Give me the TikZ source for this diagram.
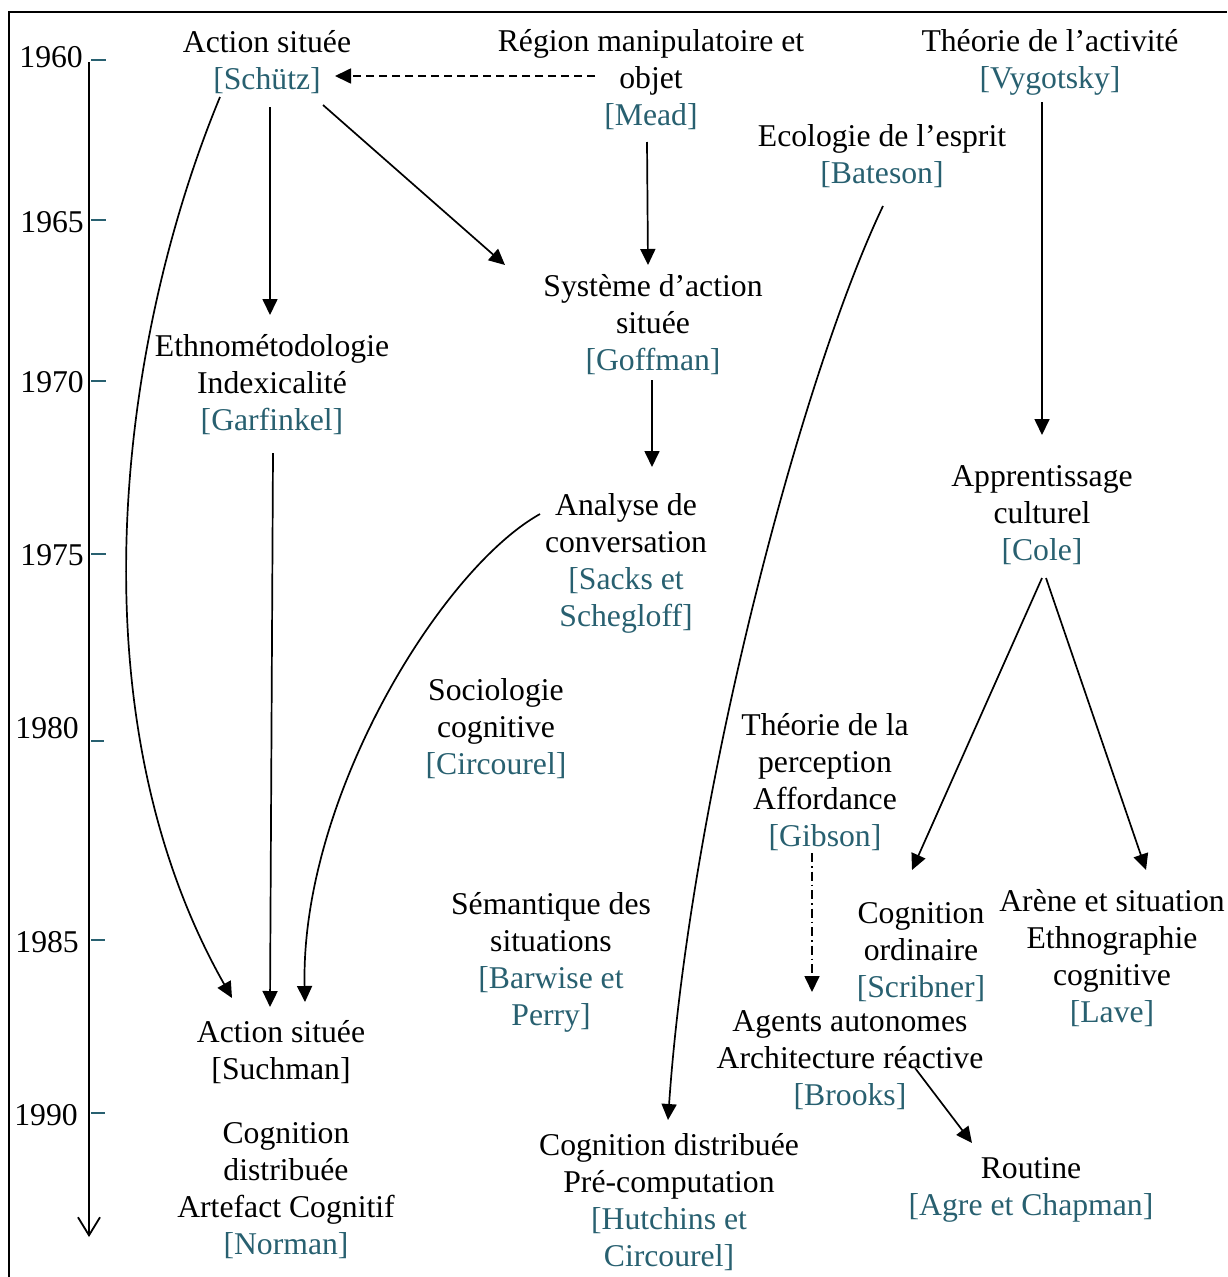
\documentclass[tikz,border=0pt]{standalone}
\usepackage{fontspec}
\setmainfont{Liberation Serif}
\usetikzlibrary{arrows.meta,calc}
\definecolor{nameteal}{RGB}{40,96,112}
\newcommand\nm[1]{\textcolor{nameteal}{#1}}
\begin{document}
\begin{tikzpicture}[x=1pt,y=-1pt,
  box/.style={anchor=north,align=center,inner sep=0pt,font=\fontsize{31.7}{37}\selectfont},
  arr/.style={-{Triangle[length=16pt,width=15pt]},line width=1.7pt},
  yearlbl/.style={anchor=east,inner sep=0pt,font=\fontsize{31.7}{37}\selectfont},
  tickmark/.style={nameteal,line width=2.4pt}]
\useasboundingbox (0,0) rectangle (1227,1277);
\draw[line width=1.1pt] (9,1277) -- (9,12) -- (1227,12);
% time axis
\coordinate (axtop) at (89,62);
\coordinate (axbot) at (89,1237);
\draw[line width=1.8pt,-{Straight Barb[length=18pt,width=22pt]}] (axtop) -- (axbot);
\draw[tickmark] (91,60) -- (106,60);
\draw[tickmark] (91,220) -- (106,220);
\draw[tickmark] (91,381) -- (106,381);
\draw[tickmark] (91,554) -- (106,554);
\draw[tickmark] (91,741) -- (104,741);
\draw[tickmark] (91,940) -- (105,940);
\draw[tickmark] (91,1113) -- (105,1113);
\node[yearlbl] (y1960) at (83,57) {1960};
\node[yearlbl] (y1965) at (84,222) {1965};
\node[yearlbl] (y1970) at (84,382) {1970};
\node[yearlbl] (y1975) at (84,555) {1975};
\node[yearlbl] (y1980) at (79,728) {1980};
\node[yearlbl] (y1985) at (79,942) {1985};
\node[yearlbl] (y1990) at (78,1115) {1990};
% nodes
\node[box] (schutz) at (267,26) {\strut Action située\\\strut\nm{[Schütz]}};
\node[box] (mead) at (651,25) {\strut Région manipulatoire et\\\strut objet\\\strut\nm{[Mead]}};
\node[box] (vygotsky) at (1050,25) {\strut Théorie de l’activité\\\strut\nm{[Vygotsky]}};
\node[box] (bateson) at (882,120) {\strut Ecologie de l’esprit\\\strut\nm{[Bateson]}};
\node[box] (garfinkel) at (272,330) {\strut Ethnométodologie\\\strut Indexicalité\\\strut\nm{[Garfinkel]}};
\node[box] (goffman) at (653,270) {\strut Système d’action\\\strut située\\\strut\nm{[Goffman]}};
\node[box] (sacks) at (626,489) {\strut Analyse de\\\strut conversation\\\strut\nm{[Sacks et}\\\strut\nm{Schegloff]}};
\node[box] (cole) at (1042,460) {\strut Apprentissage\\\strut culturel\\\strut\nm{[Cole]}};
\node[box] (circourel) at (496,674) {\strut Sociologie\\\strut cognitive\\\strut\nm{[Circourel]}};
\node[box] (gibson) at (825,709) {\strut Théorie de la\\\strut perception\\\strut Affordance\\\strut\nm{[Gibson]}};
\node[box] (barwise) at (551,888) {\strut Sémantique des\\\strut situations\\\strut\nm{[Barwise et}\\\strut\nm{Perry]}};
\node[box] (scribner) at (921,897) {\strut Cognition\\\strut ordinaire\\\strut\nm{[Scribner]}};
\node[box] (lave) at (1112,885) {\strut Arène et situation\\\strut Ethnographie\\\strut cognitive\\\strut\nm{[Lave]}};
\node[box] (brooks) at (850,1005) {\strut Agents autonomes\\\strut Architecture réactive\\\strut\nm{[Brooks]}};
\node[box] (suchman) at (281,1016) {\strut Action située\\\strut [Suchman]};
\node[box] (norman) at (286,1117) {\strut Cognition\\\strut distribuée\\\strut Artefact Cognitif\\\strut\nm{[Norman]}};
\node[box] (hutchins) at (669,1129) {\strut Cognition distribuée\\\strut Pré-computation\\\strut\nm{[Hutchins et}\\\strut\nm{Circourel]}};
\node[box] (agre) at (1031,1152) {\strut Routine\\\strut\nm{[Agre et Chapman]}};
% connectors
\draw[arr,dash pattern=on 8pt off 5pt] ($(mead.north)+(-56,51)$) -- ($(schutz.north)+(68,50)$);
\draw[arr] ($(schutz.north)+(3,81)$) -- ($(garfinkel.north)+(-2,-15)$);
\draw[arr] ($(schutz.north)+(56,79)$) -- ($(goffman.north)+(-148,-5)$);
\draw[arr] ($(schutz.north)+(-47,71)$) .. controls (119,341) and (71,714) .. ($(suchman.north)+(-49,-18)$);
\draw[arr] ($(mead.north)+(-4,117)$) -- ($(goffman.north)+(-5,-5)$);
\draw[arr] ($(goffman.north)+(-1,110)$) -- ($(sacks.north)+(26,-22)$);
\draw[arr] ($(bateson.north)+(1,86)$) .. controls (800,380) and (690,800) .. ($(hutchins.north)+(-1,-9)$);
\draw[arr] ($(sacks.north)+(-86,25)$) .. controls (440,570) and (300,800) .. ($(suchman.north)+(24,-14)$);
\draw[arr] ($(garfinkel.north)+(1,123)$) -- ($(suchman.north)+(-11,-9)$);
\draw[arr] ($(vygotsky.north)+(-8,77)$) -- ($(cole.north)+(0,-25)$);
\draw[arr] ($(cole.north)+(0,118)$) -- ($(scribner.north)+(-9,-27)$);
\draw[arr] ($(cole.north)+(4,118)$) -- ($(lave.north)+(34,-15)$);
\draw[arr,dash pattern=on 9pt off 4pt on 1.5pt off 4pt] ($(gibson.north)+(-13,144)$) -- ($(brooks.north)+(-38,-13)$);
\draw[arr] ($(brooks.north)+(65,63)$) -- ($(agre.north)+(-59,-9)$);
\end{tikzpicture}
\end{document}
